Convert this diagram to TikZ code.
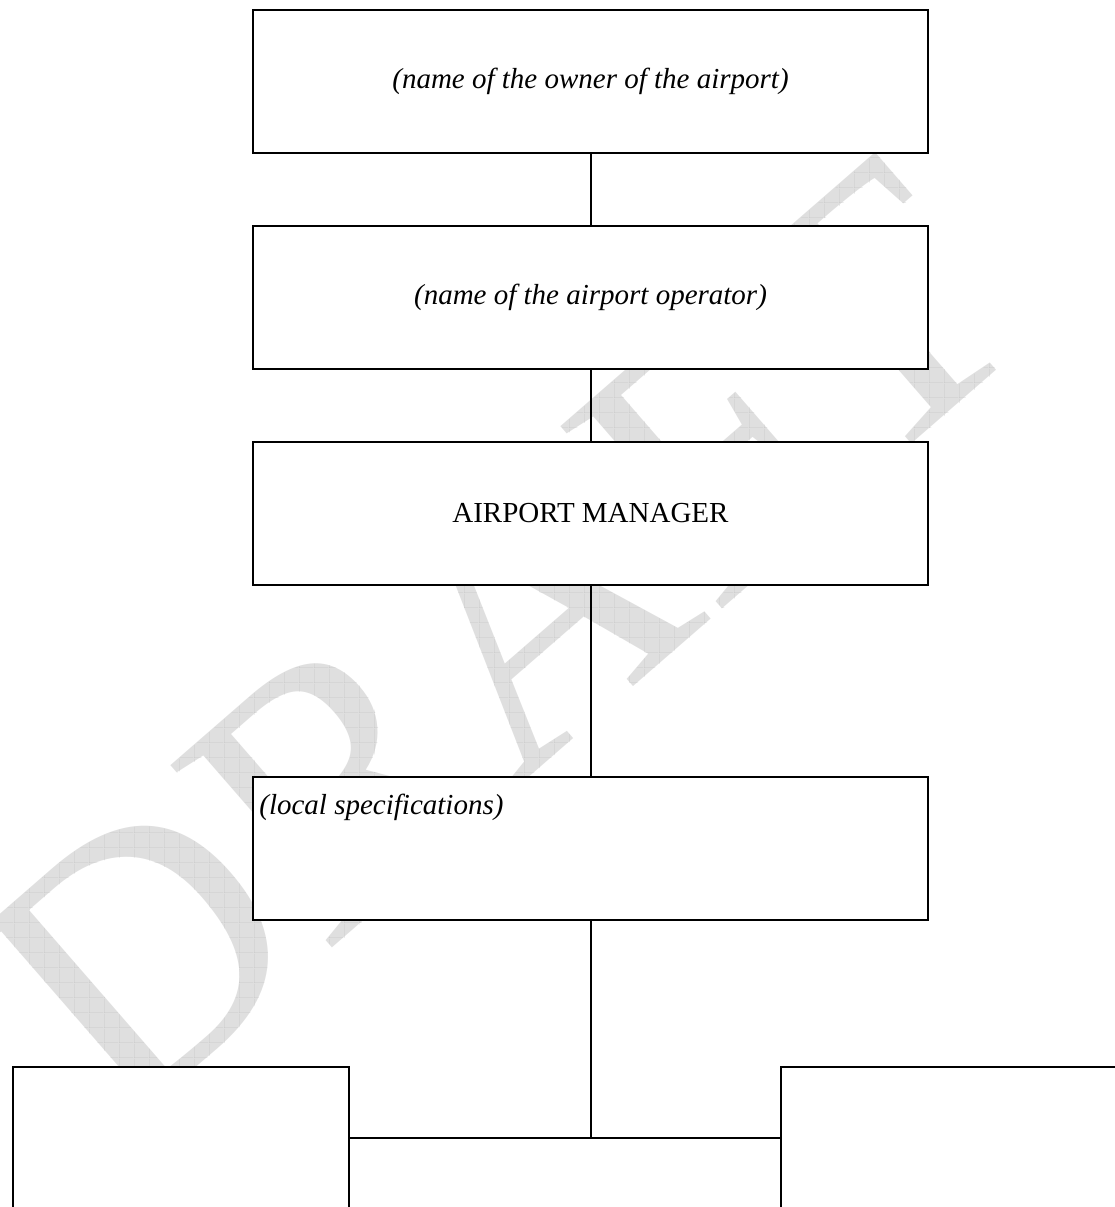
\documentclass[tikz,border=0pt]{standalone}
\usepackage{fontspec}
\setmainfont{Liberation Serif}
\usetikzlibrary{positioning,patterns}

\pgfdeclarepatternformonly{draftgrid}{\pgfpointorigin}{\pgfpoint{7.5pt}{7.5pt}}{\pgfpoint{7.5pt}{7.5pt}}{%
    \pgfsetlinewidth{0.4pt}%
    \pgfpathmoveto{\pgfpoint{0pt}{0pt}}\pgfpathlineto{\pgfpoint{7.5pt}{0pt}}%
    \pgfpathmoveto{\pgfpoint{0pt}{0pt}}\pgfpathlineto{\pgfpoint{0pt}{7.5pt}}%
    \pgfusepath{stroke}}

\begin{document}
\begin{tikzpicture}[x=0.5pt,y=-0.5pt,
    orgbox/.style={draw,line width=1pt,fill=white,inner sep=0pt,
        minimum width=337.5pt,minimum height=71.5pt,
        font=\fontsize{14.5}{17}\selectfont},
    mark text/.style={rotate=41,inner sep=0pt,font=\fontsize{186}{186}\selectfont},
    link/.style={line width=1pt}]
            \useasboundingbox (0,0) rectangle (1115,1207);
            \clip (0,0) rectangle (1115,1207);

            % watermark
            \node [mark text,text=gray!25] (draft) at (500,640) {DRAFT};
            \node [mark text] (draftlines) at (draft.center) {\pgfsetfillpattern{draftgrid}{gray!45}DRAFT};

            \node [orgbox] (owner) at (590.5,81.5) {\itshape (name of the owner of the airport)};
            \node [orgbox] (operator) at (590.5,297.5) {\itshape (name of the airport operator)};
            \node [orgbox] (manager) at (590.5,513.5) {AIRPORT MANAGER};
            \node [orgbox] (local) at (590.5,848.5) {};
            \node [anchor=north west,inner sep=0pt,font=\fontsize{14.5}{17}\selectfont] (localtext) at ([xshift=3.5pt,yshift=-9pt]local.north west) {\itshape (local specifications)};

            \node [orgbox,minimum width=168pt,minimum height=116.5pt] (left) at (181,1183.5) {};
            \node [orgbox,minimum width=216pt,minimum height=81pt] (middle) at (565,1219) {};
            \node [orgbox,minimum width=319pt,minimum height=116.5pt] (right) at (1100,1183.5) {};

            \draw [link] (owner) -- (operator);
            \draw [link] (operator) -- (manager);
            \draw [link] (manager) -- (local);
            \draw [link] (local.south) -- (local.south |- middle.north);
        \end{tikzpicture}
\end{document}
